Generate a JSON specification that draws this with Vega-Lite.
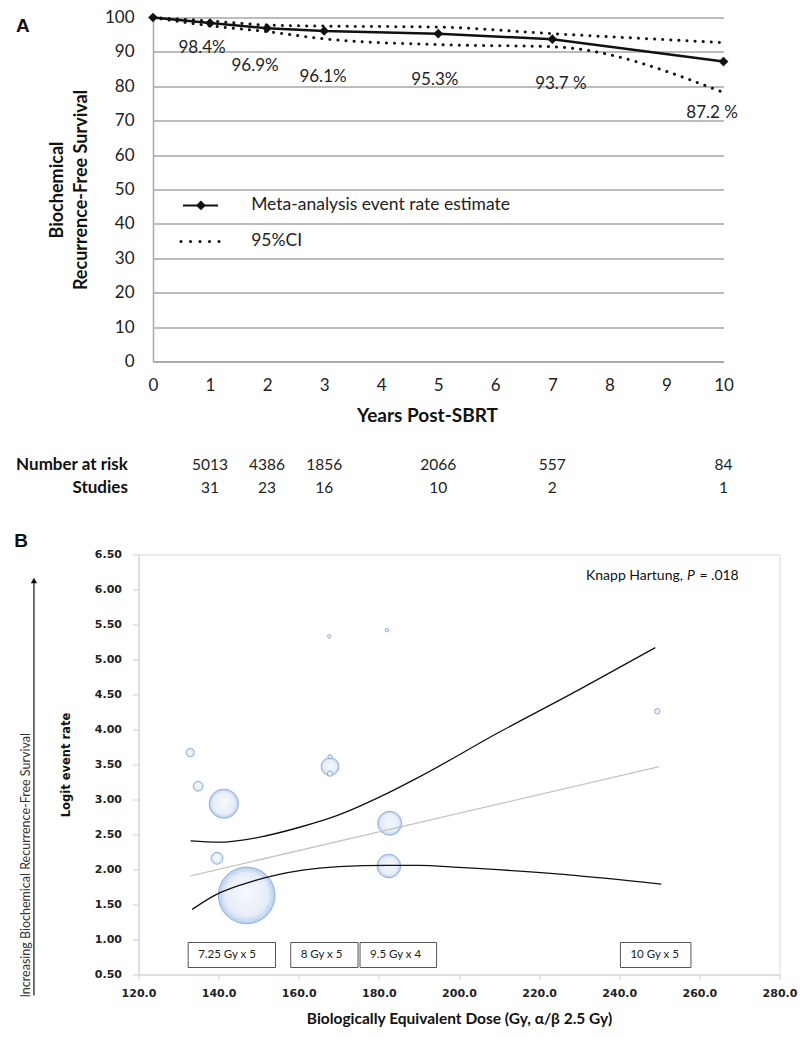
{
  "$schema": "https://vega.github.io/schema/vega-lite/v6.json",
  "padding": {"left": 13.5, "top": 8.5, "right": 2, "bottom": 2},
  "bounds": "flush",
  "spacing": 193,
  "config": {
    "font": "Lato",
    "view": {"stroke": null},
    "axis": {"labelColor": "#222222", "titleColor": "#111111", "labelOverlap": false, "labelFlush": false}
  },
  "datasets": {
    "survival": [
      {"year": 0, "estimate": 100, "lower": 100, "upper": 100},
      {"year": 1, "estimate": 98.4, "lower": 97.6, "upper": 99.0},
      {"year": 2, "estimate": 96.9, "lower": 95.9, "upper": 97.8},
      {"year": 3, "estimate": 96.1, "lower": 93.8, "upper": 97.5},
      {"year": 5, "estimate": 95.3, "lower": 92.1, "upper": 97.2},
      {"year": 7, "estimate": 93.7, "lower": 91.5, "upper": 95.3},
      {"year": 10, "estimate": 87.2, "lower": 78.2, "upper": 92.7}
    ],
    "pctLabels": [
      {"text": "98.4%", "year": 0.86, "value": 91.0},
      {"text": "96.9%", "year": 1.79, "value": 85.8},
      {"text": "96.1%", "year": 2.98, "value": 82.6},
      {"text": "95.3%", "year": 4.94, "value": 81.7},
      {"text": "93.7 %", "year": 7.15, "value": 80.8},
      {"text": "87.2 %", "year": 9.8, "value": 72.1}
    ],
    "atRisk": [
      {"year": 1, "atRisk": 5013, "studies": 31},
      {"year": 2, "atRisk": 4386, "studies": 23},
      {"year": 3, "atRisk": 1856, "studies": 16},
      {"year": 5, "atRisk": 2066, "studies": 10},
      {"year": 7, "atRisk": 557, "studies": 2},
      {"year": 10, "atRisk": 84, "studies": 1}
    ],
    "bubbles": [
      {"dose": 132.9, "logit": 3.67, "weight": 1.1},
      {"dose": 134.9, "logit": 3.19, "weight": 1.6},
      {"dose": 141.3, "logit": 2.94, "weight": 14.5},
      {"dose": 139.6, "logit": 2.16, "weight": 2.4},
      {"dose": 147.0, "logit": 1.63, "weight": 54.4},
      {"dose": 167.6, "logit": 5.33, "weight": 0.2},
      {"dose": 182.0, "logit": 5.42, "weight": 0.2},
      {"dose": 167.8, "logit": 3.47, "weight": 5.3},
      {"dose": 167.8, "logit": 3.61, "weight": 0.3},
      {"dose": 167.8, "logit": 3.37, "weight": 0.5},
      {"dose": 182.7, "logit": 2.66, "weight": 9.7},
      {"dose": 182.5, "logit": 2.05, "weight": 9.4},
      {"dose": 249.5, "logit": 4.26, "weight": 0.5}
    ],
    "curves": [
      {"curve": "fit", "dose": 133.0, "logit": 1.91},
      {"curve": "fit", "dose": 250.0, "logit": 3.47},
      {"curve": "upper", "dose": 133.0, "logit": 2.41},
      {"curve": "upper", "dose": 140.0, "logit": 2.39},
      {"curve": "upper", "dose": 150.0, "logit": 2.46},
      {"curve": "upper", "dose": 160.0, "logit": 2.6},
      {"curve": "upper", "dose": 170.0, "logit": 2.78},
      {"curve": "upper", "dose": 180.0, "logit": 3.03},
      {"curve": "upper", "dose": 190.0, "logit": 3.32},
      {"curve": "upper", "dose": 210.0, "logit": 3.96},
      {"curve": "upper", "dose": 230.0, "logit": 4.57},
      {"curve": "upper", "dose": 249.0, "logit": 5.17},
      {"curve": "lower", "dose": 133.4, "logit": 1.43},
      {"curve": "lower", "dose": 139.0, "logit": 1.63},
      {"curve": "lower", "dose": 149.0, "logit": 1.84},
      {"curve": "lower", "dose": 161.0, "logit": 1.99},
      {"curve": "lower", "dose": 170.0, "logit": 2.04},
      {"curve": "lower", "dose": 182.0, "logit": 2.06},
      {"curve": "lower", "dose": 190.0, "logit": 2.06},
      {"curve": "lower", "dose": 200.0, "logit": 2.03},
      {"curve": "lower", "dose": 226.0, "logit": 1.93},
      {"curve": "lower", "dose": 250.5, "logit": 1.79}
    ],
    "regimens": [
      {"regimen": "7.25 Gy x 5", "doseFrom": 132.4, "doseTo": 154.2},
      {"regimen": "8 Gy x 5", "doseFrom": 158.0, "doseTo": 174.8},
      {"regimen": "9.5 Gy x 4", "doseFrom": 175.3, "doseTo": 194.4},
      {"regimen": "10 Gy x 5", "doseFrom": 240.3, "doseTo": 257.9}
    ]
  },
  "vconcat": [
    {
      "width": 585,
      "height": 344,
      "layer": [
        {
          "data": {"name": "survival"},
          "mark": {"type": "line", "color": "#111111", "strokeWidth": 3, "strokeDash": [0.1, 8], "strokeCap": "round", "interpolate": "monotone"},
          "encoding": {
            "x": {
              "field": "year", "type": "quantitative",
              "scale": {"domain": [0, 10], "range": [14.5, 585], "nice": false},
              "axis": {
                "values": [0, 1, 2, 3, 4, 5, 6, 7, 8, 9, 10], "tickCount": 20, "format": "d", "labelOverlap": false,
                "title": "Years Post-SBRT", "titleFont": "Lato", "titleFontSize": 19, "titleFontWeight": "bold",
                "titlePadding": 13, "titleX": 288.5,
                "labelFont": "Lato", "labelFontSize": 17, "labelPadding": 16,
                "ticks": false, "grid": false, "domainColor": "#a6a6a6", "domainWidth": 1.5
              }
            },
            "y": {
              "field": "upper", "type": "quantitative",
              "scale": {"domain": [0, 100], "nice": false, "zero": true},
              "axis": {
                "values": [0, 10, 20, 30, 40, 50, 60, 70, 80, 90, 100], "tickCount": 20, "format": "d", "labelOverlap": false,
                "title": ["Biochemical", "Recurrence-Free Survival"], "titleFont": "Lato", "titleFontSize": 18,
                "titleFontWeight": "bold", "titleLineHeight": 24, "titlePadding": 14,
                "labelFont": "Lato", "labelFontSize": 17, "labelPadding": 19,
                "ticks": false, "grid": true, "gridColor": "#a6a6a6", "gridWidth": 1.3,
                "domainColor": "#a6a6a6", "domainWidth": 1.5, "offset": -14.5
              }
            }
          }
        },
        {
          "data": {"name": "survival"},
          "mark": {"type": "line", "color": "#111111", "strokeWidth": 3, "strokeDash": [0.1, 8], "strokeCap": "round", "interpolate": "monotone"},
          "encoding": {
            "x": {"field": "year", "type": "quantitative"},
            "y": {"field": "lower", "type": "quantitative"}
          }
        },
        {
          "data": {"name": "survival"},
          "mark": {"type": "line", "color": "#111111", "strokeWidth": 2.5, "point": {"shape": "diamond", "size": 95, "filled": true, "color": "#111111"}},
          "encoding": {
            "x": {"field": "year", "type": "quantitative"},
            "y": {"field": "estimate", "type": "quantitative"}
          }
        },
        {
          "data": {"name": "pctLabels"},
          "mark": {"type": "text", "fontSize": 17, "font": "Lato", "color": "#222222"},
          "encoding": {
            "x": {"field": "year", "type": "quantitative"},
            "y": {"field": "value", "type": "quantitative"},
            "text": {"field": "text"}
          }
        },
        {
          "data": {"values": [{}]},
          "mark": {"type": "rule", "color": "#111111", "strokeWidth": 2},
          "encoding": {"x": {"datum": 0.526}, "x2": {"datum": 1.139}, "y": {"datum": 45.35}}
        },
        {
          "data": {"values": [{}]},
          "mark": {"type": "point", "shape": "diamond", "size": 95, "filled": true, "color": "#111111", "opacity": 1},
          "encoding": {"x": {"datum": 0.84}, "y": {"datum": 45.35}}
        },
        {
          "data": {"values": [{}]},
          "mark": {"type": "rule", "color": "#111111", "strokeWidth": 3, "strokeDash": [0.1, 9.4], "strokeCap": "round"},
          "encoding": {"x": {"datum": 0.49}, "x2": {"datum": 1.16}, "y": {"datum": 34.9}}
        },
        {
          "data": {"values": [{}]},
          "mark": {"type": "text", "text": "Meta-analysis event rate estimate", "align": "left", "fontSize": 17.5, "font": "Lato", "color": "#222222"},
          "encoding": {"x": {"datum": 1.72}, "y": {"datum": 45.35}}
        },
        {
          "data": {"values": [{}]},
          "mark": {"type": "text", "text": "95%CI", "align": "left", "fontSize": 17.5, "font": "Lato", "color": "#222222"},
          "encoding": {"x": {"datum": 1.72}, "y": {"datum": 34.9}}
        },
        {
          "data": {"name": "atRisk"},
          "mark": {"type": "text", "fontSize": 15.5, "font": "Lato", "color": "#222222"},
          "encoding": {
            "x": {"field": "year", "type": "quantitative"},
            "y": {"datum": -30.2},
            "text": {"field": "atRisk", "type": "quantitative", "format": "d"}
          }
        },
        {
          "data": {"name": "atRisk"},
          "mark": {"type": "text", "fontSize": 15.5, "font": "Lato", "color": "#222222"},
          "encoding": {
            "x": {"field": "year", "type": "quantitative"},
            "y": {"datum": -36.9},
            "text": {"field": "studies", "type": "quantitative", "format": "d"}
          }
        },
        {
          "data": {"values": [{}]},
          "mark": {"type": "text", "text": "Number at risk", "align": "right", "fontSize": 17, "fontWeight": "bold", "font": "Lato", "color": "#111111"},
          "encoding": {"x": {"datum": -0.44}, "y": {"datum": -30.2}}
        },
        {
          "data": {"values": [{}]},
          "mark": {"type": "text", "text": "Studies", "align": "right", "fontSize": 17, "fontWeight": "bold", "font": "Lato", "color": "#111111"},
          "encoding": {"x": {"datum": -0.44}, "y": {"datum": -36.9}}
        },
        {
          "data": {"values": [{}]},
          "mark": {"type": "text", "text": "A", "fontSize": 19, "fontWeight": "bold", "font": "Liberation Sans", "color": "#111111"},
          "encoding": {"x": {"datum": -2.28}, "y": {"datum": 97.4}}
        }
      ]
    },
    {
      "width": 641,
      "height": 420,
      "view": {"stroke": "#d9d9d9"},
      "layer": [
        {
          "data": {"name": "bubbles"},
          "mark": {
            "type": "point", "filled": true, "opacity": 0.95,
            "fill": {"gradient": "radial", "x1": 0.5, "y1": 0.45, "r1": 0, "x2": 0.5, "y2": 0.5, "r2": 0.5,
              "stops": [{"offset": 0, "color": "#f7f9fd"}, {"offset": 0.75, "color": "#e6edf8"}, {"offset": 1, "color": "#b3cbec"}]},
            "stroke": "#8aacdb", "strokeWidth": 1
          },
          "encoding": {
            "x": {
              "field": "dose", "type": "quantitative",
              "scale": {"domain": [120, 280], "nice": false, "zero": false},
              "axis": {
                "values": [120, 140, 160, 180, 200, 220, 240, 260, 280], "tickCount": 20, "format": ".1f", "labelOverlap": false,
                "title": "Biologically Equivalent Dose (Gy, α/β 2.5 Gy)", "titleFont": "Lato", "titleFontSize": 15.5,
                "titleFontWeight": "bold", "titlePadding": 13,
                "labelFont": "DejaVu Sans", "labelFontSize": 11, "labelFontWeight": "bold", "labelPadding": 8,
                "tickSize": 5, "tickColor": "#d0d0d0", "domainColor": "#d0d0d0", "grid": false
              }
            },
            "y": {
              "field": "logit", "type": "quantitative",
              "scale": {"domain": [0.5, 6.5], "nice": false, "zero": false},
              "axis": {
                "values": [0.5, 1, 1.5, 2, 2.5, 3, 3.5, 4, 4.5, 5, 5.5, 6, 6.5], "tickCount": 20, "format": ".2f", "labelOverlap": false,
                "title": "Logit event rate", "titleFont": "DejaVu Sans", "titleFontSize": 11.5,
                "titleFontWeight": "bold", "titlePadding": 23,
                "labelFont": "DejaVu Sans", "labelFontSize": 11, "labelFontWeight": "bold", "labelPadding": 11,
                "tickSize": 6, "tickColor": "#d0d0d0", "domainColor": "#d0d0d0", "grid": false
              }
            },
            "size": {"field": "weight", "type": "quantitative", "scale": {"domain": [0, 54.4], "range": [0, 3217]}, "legend": null}
          }
        },
        {
          "data": {"name": "curves"},
          "mark": {"type": "line", "strokeWidth": 1.3, "interpolate": "monotone"},
          "encoding": {
            "x": {"field": "dose", "type": "quantitative"},
            "y": {"field": "logit", "type": "quantitative"},
            "detail": {"field": "curve"},
            "color": {"field": "curve", "type": "nominal", "scale": {"domain": ["fit", "lower", "upper"], "range": ["#c4c4c4", "#111111", "#111111"]}, "legend": null}
          }
        },
        {
          "data": {"name": "regimens"},
          "mark": {"type": "rect", "fill": "#ffffff", "stroke": "#555555", "strokeWidth": 1},
          "encoding": {
            "x": {"field": "doseFrom", "type": "quantitative"},
            "x2": {"field": "doseTo"},
            "y": {"datum": 0.6},
            "y2": {"datum": 0.957}
          }
        },
        {
          "data": {"name": "regimens"},
          "mark": {"type": "text", "align": "left", "dx": 10, "fontSize": 11.5, "font": "Lato", "color": "#222222"},
          "encoding": {
            "x": {"field": "doseFrom", "type": "quantitative"},
            "y": {"datum": 0.78},
            "text": {"field": "regimen"}
          }
        },
        {
          "data": {"values": [{}]},
          "mark": {"type": "text", "text": "Knapp Hartung,", "align": "right", "fontSize": 14, "font": "Lato", "color": "#111111"},
          "encoding": {"x": {"datum": 255.9}, "y": {"datum": 6.2}}
        },
        {
          "data": {"values": [{}]},
          "mark": {"type": "text", "text": "P", "align": "left", "fontSize": 14, "fontStyle": "italic", "font": "Lato", "color": "#111111"},
          "encoding": {"x": {"datum": 256.9}, "y": {"datum": 6.2}}
        },
        {
          "data": {"values": [{}]},
          "mark": {"type": "text", "text": "= .018", "align": "left", "fontSize": 14, "font": "Lato", "color": "#111111"},
          "encoding": {"x": {"datum": 260.0}, "y": {"datum": 6.2}}
        },
        {
          "data": {"values": [{}]},
          "mark": {"type": "rule", "color": "#111111", "strokeWidth": 1.2},
          "encoding": {"x": {"datum": 93.9}, "y": {"datum": 0.2}, "y2": {"datum": 6.1}}
        },
        {
          "data": {"values": [{}]},
          "mark": {"type": "point", "shape": "triangle-up", "size": 40, "filled": true, "color": "#111111", "opacity": 1},
          "encoding": {"x": {"datum": 93.9}, "y": {"datum": 6.13}}
        },
        {
          "data": {"values": [{}]},
          "mark": {"type": "text", "text": "Increasing Biochemical Recurrence-Free Survival", "angle": 270, "fontSize": 12.5, "font": "Lato", "color": "#333333"},
          "encoding": {"x": {"datum": 91.9}, "y": {"datum": 2.06}}
        },
        {
          "data": {"values": [{}]},
          "mark": {"type": "text", "text": "B", "fontSize": 19, "fontWeight": "bold", "font": "Liberation Sans", "color": "#111111"},
          "encoding": {"x": {"datum": 90.7}, "y": {"datum": 6.69}}
        }
      ]
    }
  ]
}
